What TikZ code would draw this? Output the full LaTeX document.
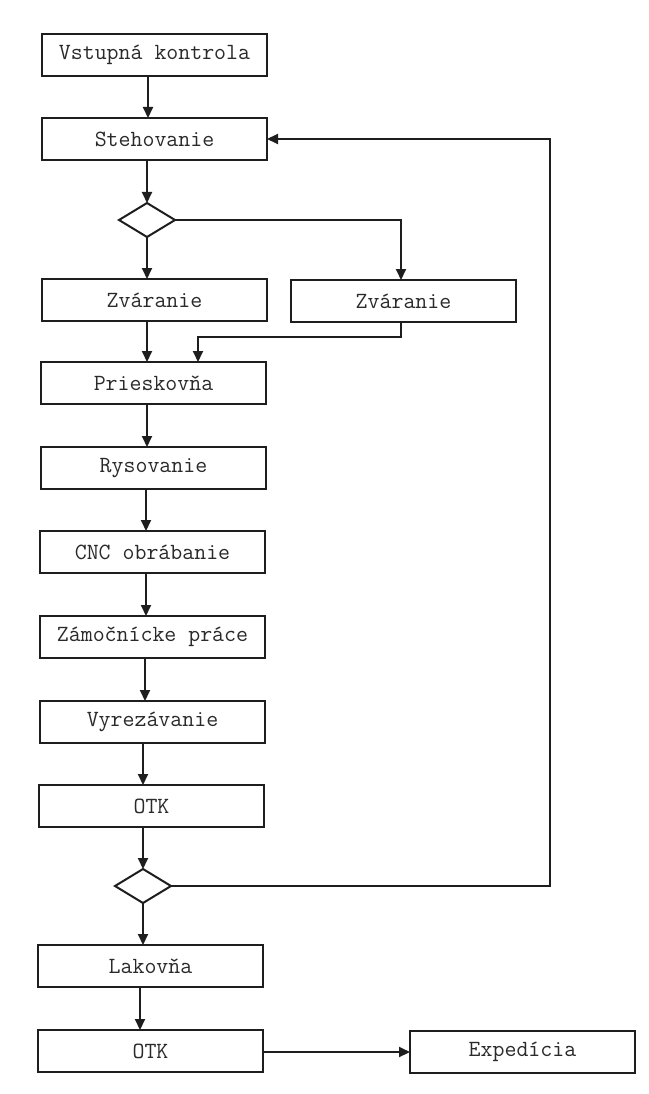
\documentclass[tikz,border=0pt]{standalone}
\usepackage{fontspec}
\usetikzlibrary{shapes.geometric,arrows.meta}
\definecolor{ink}{HTML}{1E1E1E}
\definecolor{txt}{HTML}{2A2A2A}
\begin{document}
\begin{tikzpicture}[x=1pt,y=-1pt,
  stepbox/.style={draw=ink,line width=2pt,minimum width=225pt,minimum height=42pt,
    inner sep=0pt,outer sep=0pt,font=\ttfamily\fontsize{23.2}{25}\selectfont,text=txt},
  decision/.style={draw=ink,line width=2pt,diamond,minimum width=56pt,minimum height=34pt,
    inner sep=0pt,outer sep=0pt},
  arr/.style={draw=ink,line width=2pt,-{Triangle[length=11pt,width=10pt]}}]
\fill[white] (0,0) rectangle (648,1094);
\useasboundingbox (0,0) rectangle (648,1094);

% process steps
\node[stepbox] (v1) at (154.5,55)   {Vstupná kontrola};
\node[stepbox] (s)  at (154.5,139)  {Stehovanie};
\node[decision] (d1) at (147,220) {};
\node[stepbox] (z1) at (154.5,300)  {Zváranie};
\node[stepbox] (z2) at (403.5,301)  {Zváranie};
\node[stepbox] (p)  at (153.5,383)  {Prieskovňa};
\node[stepbox] (r)  at (153.5,468)  {Rysovanie};
\node[stepbox] (c)  at (152.5,552)  {CNC obrábanie};
\node[stepbox] (zm) at (152.5,637)  {Zámočnícke práce};
\node[stepbox] (vy) at (152.5,722)  {Vyrezávanie};
\node[stepbox] (o1) at (151.5,806)  {OTK};
\node[decision] (d2) at (143,886) {};
\node[stepbox] (l)  at (150.5,966)  {Lakovňa};
\node[stepbox] (o2) at (150.5,1051) {OTK};
\node[stepbox] (e)  at (522.5,1052) {Expedícia};

% turning points of the side branches
\coordinate (fb) at (550,0);
\coordinate (mg) at (198,337);

% main flow
\draw[arr] ([xshift=-6.5pt]v1.south) -- ([xshift=-6.5pt]v1.south |- s.north);
\draw[arr] (s.south -| d1.north) -- (d1.north);
\draw[arr] (d1.south) -- (z1.north -| d1.south);
\draw[arr] ([xshift=-7.5pt]z1.south) -- ([xshift=-7.5pt]z1.south |- p.north);
\draw[arr] ([xshift=-6.5pt]p.south) -- ([xshift=-6.5pt]p.south |- r.north);
\draw[arr] ([xshift=-7.5pt]r.south) -- ([xshift=-7.5pt]r.south |- c.north);
\draw[arr] ([xshift=-6.5pt]c.south) -- ([xshift=-6.5pt]c.south |- zm.north);
\draw[arr] ([xshift=-7.5pt]zm.south) -- ([xshift=-7.5pt]zm.south |- vy.north);
\draw[arr] (vy.south -| d2.north) -- (o1.north -| d2.north);
\draw[arr] (o1.south -| d2.north) -- (d2.north);
\draw[arr] (d2.south) -- (l.north -| d2.south);
\draw[arr] ([xshift=-10.5pt]l.south) -- ([xshift=-10.5pt]l.south |- o2.north);
\draw[arr] (o2.east |- e.west) -- (e.west);

% alternative welding branch
\draw[arr] (d1.east) -| ([xshift=-2.5pt]z2.north);
\draw[arr] ([xshift=-2.5pt]z2.south) |- (mg) -- (mg |- p.north);

% return loop after inspection
\draw[arr] (d2.east) -| (fb |- s.east) -- (s.east);
\end{tikzpicture}
\end{document}
